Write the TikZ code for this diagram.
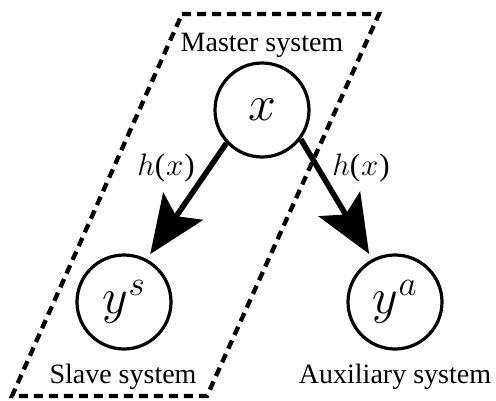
\RequirePackage{fix-cm}
\documentclass[tikz,border=0pt]{standalone}
\usepackage{fontspec}
\setmainfont{Liberation Serif}
\usetikzlibrary{arrows.meta}
\tikzset{
  varnode/.style={circle, draw, line width=3.2pt, minimum size=94pt, inner sep=0pt, font=\fontsize{50}{56}\selectfont},
  lbl/.style={font=\fontsize{28}{32}\selectfont, inner sep=0pt, anchor=base},
  hlbl/.style={font=\fontsize{31}{36}\selectfont, inner sep=0pt, anchor=base},
  bigarrow/.style={line width=5.5pt, -{Stealth[length=58pt,width=48pt,inset=12pt]}, shorten >=6pt},
  groupbox/.style={line width=4.3pt, dash pattern=on 9pt off 6pt}
}
\begin{document}
\begin{tikzpicture}[x=1pt,y=-1pt]
\useasboundingbox (0,0) rectangle (496,401);
\draw[groupbox] (182,14) -- (379,14) -- (207,396) -- (12,396) -- cycle;
\node[varnode] (x) at (262,110) {$x$};
\node[varnode] (ys) at (124,302) {$y^{s}$};
\node[varnode] (ya) at (395,302) {$y^{a}$};
\node[lbl] (master) at (262,52) {Master system};
\node[lbl] (slave) at (123,383) {Slave system};
\node[lbl] (aux) at (395,383) {Auxiliary system};
\node[hlbl] (h1) at (166,176) {$h$(\kern1pt$x$\kern1pt)};
\node[hlbl] (h2) at (361,176) {$h$(\kern1pt$x$\kern1pt)};
\draw[bigarrow] (x.223) -- (ys.62);
\draw[bigarrow] (x.-37) -- (ya.118);
\end{tikzpicture}
\end{document}
